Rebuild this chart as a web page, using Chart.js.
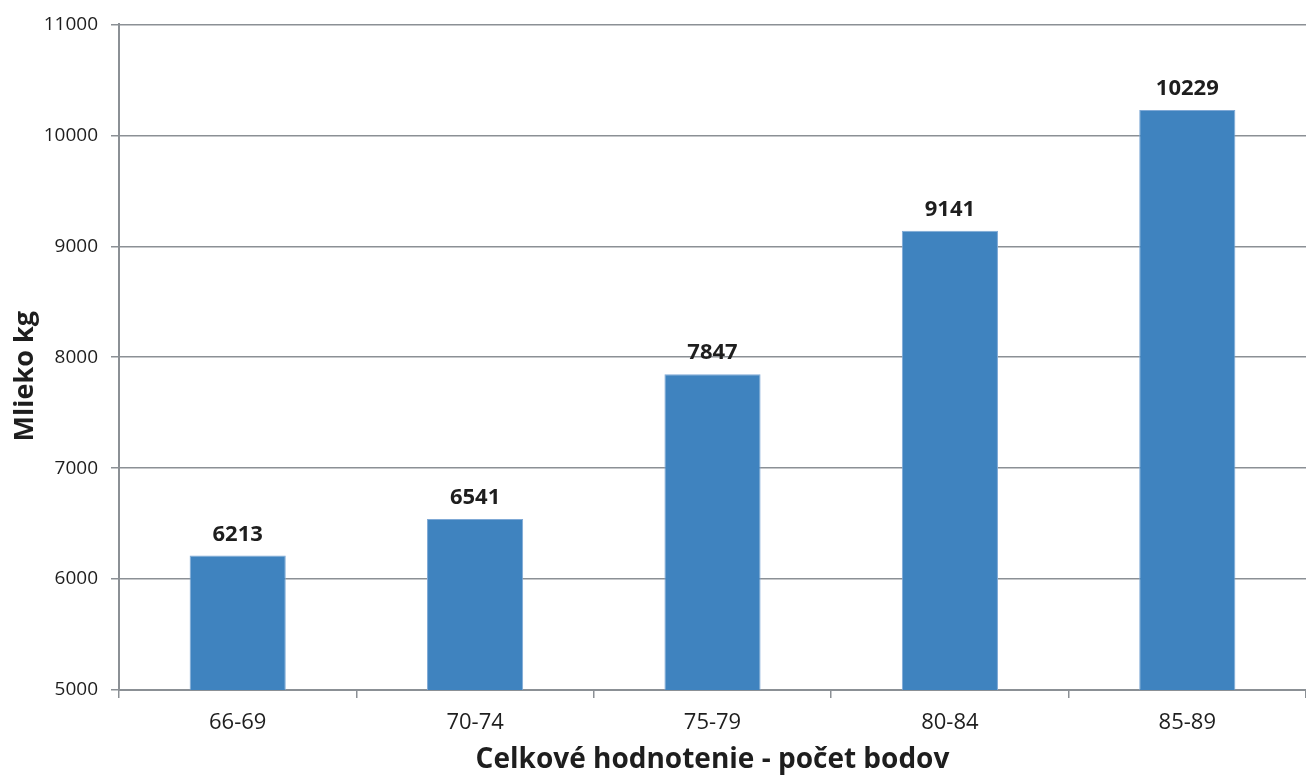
<!DOCTYPE html>
<html>
<head>
<meta charset="utf-8">
<script src="https://cdn.jsdelivr.net/npm/chart.js@4"></script>
<style>
  html, body { margin: 0; padding: 0; background: #fff; }
  #wrap { width: 1306px; height: 781px; }
</style>
</head>
<body>
<div id="wrap"><canvas id="c" width="1306" height="781"></canvas></div>
<script>
const categories = ["66-69", "70-74", "75-79", "80-84", "85-89"];
const milkKg = [6213, 6541, 7847, 9141, 10229];
const yTicks = [5000, 6000, 7000, 8000, 9000, 10000, 11000];

const FONT = "'Open Sans', 'DejaVu Sans', sans-serif";
const GRID = "#8b9095";
const TEXT = "#1e1e1e";

// Bold value printed above every bar, plus the rotated y-axis title
const annotations = {
  id: "annotations",
  afterDatasetsDraw(chart) {
    const ctx = chart.ctx;
    const meta = chart.getDatasetMeta(0);
    ctx.save();
    ctx.font = "bold 22px " + FONT;
    ctx.fillStyle = TEXT;
    ctx.textAlign = "center";
    ctx.textBaseline = "bottom";
    meta.data.forEach((bar, i) => {
      ctx.fillText(String(milkKg[i]), bar.x, bar.y - 10);
    });
    ctx.restore();

    const area = chart.chartArea;
    ctx.save();
    ctx.translate(25, (area.top + area.bottom) / 2 + 19);
    ctx.rotate(-Math.PI / 2);
    ctx.font = "bold 27px " + FONT;
    ctx.fillStyle = TEXT;
    ctx.textAlign = "center";
    ctx.textBaseline = "middle";
    ctx.fillText("Mlieko kg", 0, 0);
    ctx.restore();
  }
};

new Chart(document.getElementById("c"), {
  type: "bar",
  data: {
    labels: categories,
    datasets: [{
      data: milkKg,
      backgroundColor: "#3f83bf",
      borderColor: "#7fa9d6",
      borderWidth: 1,
      categoryPercentage: 1.0,
      barPercentage: 0.405
    }]
  },
  options: {
    responsive: false,
    animation: false,
    layout: { padding: { top: 23, right: 0, left: 0, bottom: 0 } },
    plugins: { legend: { display: false }, tooltip: { enabled: false } },
    scales: {
      x: {
        offset: true,
        grid: { offset: true, drawOnChartArea: false, color: GRID, tickLength: 8, lineWidth: 1.5 },
        border: { color: GRID, width: 2 },
        ticks: { color: TEXT, font: { family: FONT, size: 22 }, padding: 12 },
        title: { display: true, text: "Celkové hodnotenie - počet bodov", color: TEXT,
                 font: { family: FONT, size: 28, weight: "bold" }, padding: { top: 4 } },
        afterFit(scale) { scale.height = 91; }
      },
      y: {
        min: 5000, max: 11000,
        afterBuildTicks(scale) { scale.ticks = yTicks.map(v => ({ value: v })); },
        grid: { color: GRID, tickLength: 8, lineWidth: 1.5 },
        border: { color: GRID, width: 2 },
        ticks: { color: TEXT, font: { family: FONT, size: 19 }, padding: 13,
                 callback: v => String(v) },
        afterFit(scale) { scale.width = 119; }
      }
    }
  },
  plugins: [annotations]
});
</script>
</body>
</html>
